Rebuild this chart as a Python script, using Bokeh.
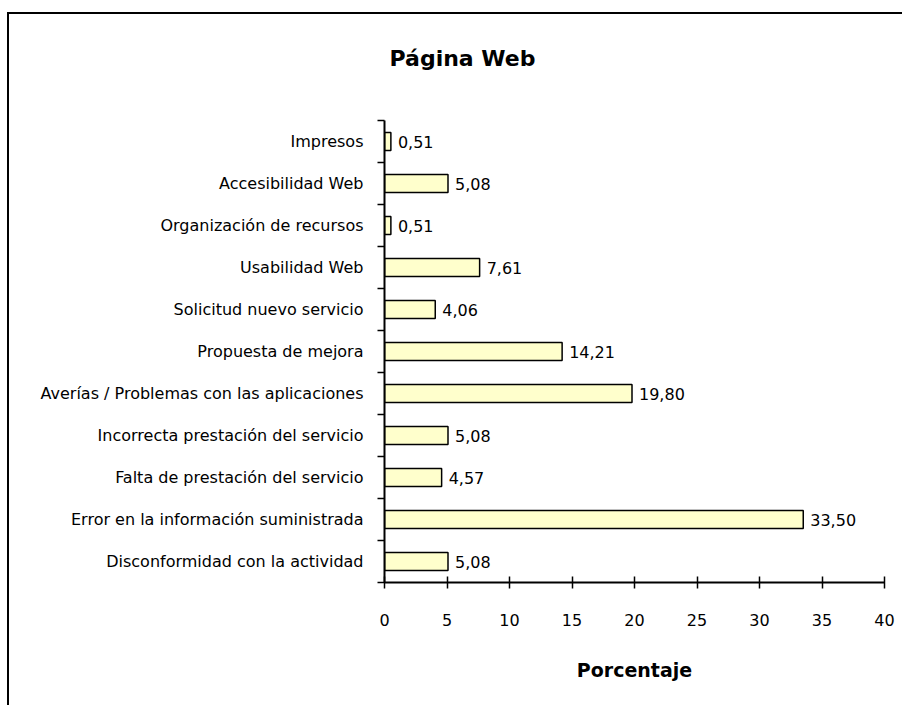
from bokeh.plotting import figure
from bokeh.models import Range1d, FixedTicker, ColumnDataSource, Title
from bokeh.core.properties import value
from bokeh.embed import file_html
from bokeh.resources import INLINE

categories = [
    "Disconformidad con la actividad",
    "Error en la información suministrada",
    "Falta de prestación del servicio",
    "Incorrecta prestación del servicio",
    "Averías / Problemas con las aplicaciones",
    "Propuesta de mejora",
    "Solicitud nuevo servicio",
    "Usabilidad Web",
    "Organización de recursos",
    "Accesibilidad Web",
    "Impresos",
]
values = [5.08, 33.50, 4.57, 5.08, 19.80, 14.21, 4.06, 7.61, 0.51, 5.08, 0.51]
x_ticks = [0, 5, 10, 15, 20, 25, 30, 35, 40]
title_text = "Página Web"
x_title = "Porcentaje"

FONT = "DejaVu Sans"

pos = [i + 0.5 for i in range(len(categories))]
labels = [f"{v:.2f}".replace(".", ",") for v in values]
src = ColumnDataSource(dict(y=pos, v=values, lab=labels))

p = figure(width=895, height=693, output_backend="svg", toolbar_location=None,
           title=None,
           x_range=Range1d(0, 40), y_range=Range1d(0, len(categories)),
           min_border_left=375, min_border_right=20, min_border_top=106,
           min_border_bottom=125)
p.styles = {"border-left": "2px solid black", "border-top": "2px solid black",
            "margin-top": "12px", "margin-left": "7px"}
p.outline_line_color = None
p.xgrid.grid_line_color = None
p.ygrid.grid_line_color = None
p.background_fill_color = "white"
p.border_fill_color = "white"

# spacer between the frame and the title, then the title itself
p.add_layout(Title(text=" ", text_font_size="2px", standoff=46), "above")
p.add_layout(Title(text=title_text, align="left", offset=5, standoff=0,
                   text_font=FONT, text_font_size="22px", text_font_style="bold",
                   text_color="black"), "above")

p.hbar(y="y", right="v", left=0, height=0.43, source=src,
       fill_color="#FFFFCC", line_color="black", line_width=1.5)
p.text(x="v", y="y", text="lab", source=src, x_offset=7,
       text_baseline="middle", text_align="left",
       text_font=value(FONT), text_font_size="16px", text_color="black")

# y axis
ya = p.yaxis[0]
ya.ticker = FixedTicker(ticks=pos, minor_ticks=list(range(len(categories) + 1)))
ya.major_label_overrides = {pp: c for pp, c in zip(pos, categories)}
ya.major_tick_line_color = None
ya.major_tick_out = 0
ya.major_tick_in = 0
ya.minor_tick_out = 7
ya.minor_tick_in = 0
ya.minor_tick_line_color = "black"
ya.minor_tick_line_width = 1.5
ya.axis_line_width = 2
ya.major_label_standoff = 14
ya.major_label_text_font = FONT
ya.major_label_text_font_size = "16px"
ya.major_label_text_color = "black"

# x axis
xa = p.xaxis[0]
xa.ticker = FixedTicker(ticks=x_ticks)
xa.major_tick_in = 6
xa.major_tick_out = 6
xa.major_tick_line_width = 1.5
xa.axis_line_width = 2
xa.minor_tick_line_color = None
xa.major_label_standoff = 25
xa.major_label_text_font = FONT
xa.major_label_text_font_size = "16px"
xa.major_label_text_color = "black"
xa.axis_label = x_title
xa.axis_label_standoff = 30
xa.axis_label_text_font = FONT
xa.axis_label_text_font_size = "19px"
xa.axis_label_text_font_style = "bold"
xa.axis_label_text_color = "black"

open("out.html", "w").write(file_html(p, INLINE))
